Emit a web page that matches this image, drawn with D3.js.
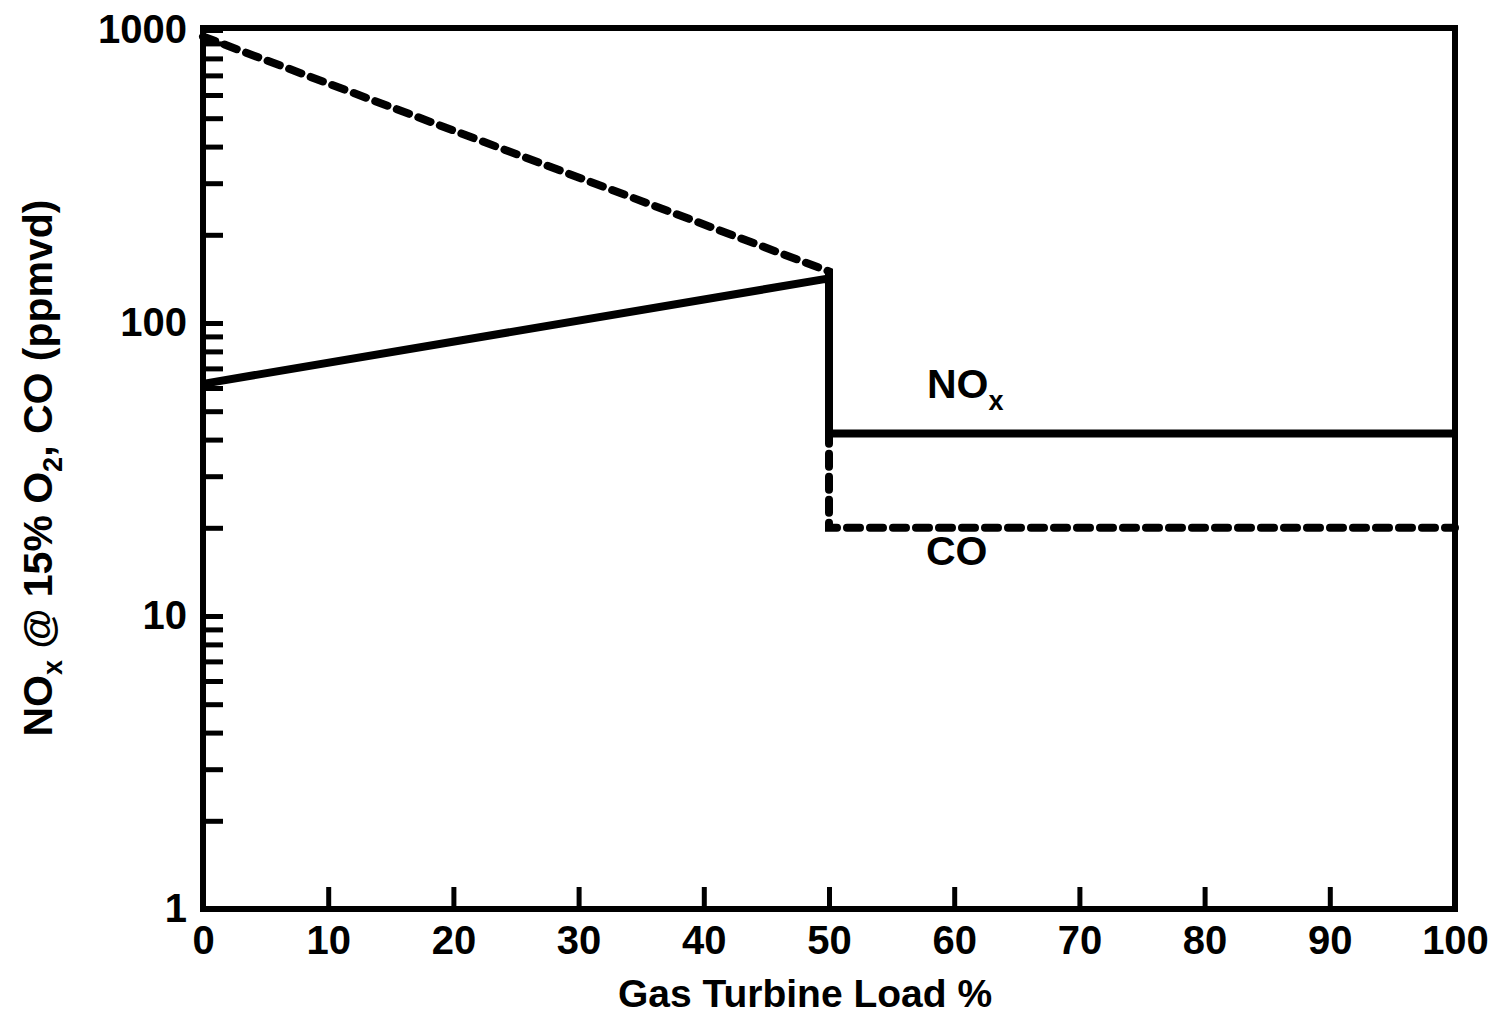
<!DOCTYPE html>
<html>
<head>
<meta charset="utf-8">
<script src="https://cdn.jsdelivr.net/npm/d3@7"></script>
<style>
    body { margin: 0; background: #fff; }
    svg text { font-family: "Liberation Sans", Arial, sans-serif; font-weight: bold; fill: #000; }
</style>
</head>
<body>
<svg id="chart" width="1502" height="1022"></svg>
<script>
// DATA
var loadPct = [0, 50, 50, 100];
var noxValues = [62, 142, 42, 42];
var coValues = [950, 150, 20, 20];
var xTickValues = [0, 10, 20, 30, 40, 50, 60, 70, 80, 90, 100];
var yLabelValues = [1, 10, 100, 1000];

// UI dimensions
var _left = 203, _right = 1455, _top = 30, _bottom = 909;

var svg = d3.select("#chart");

var x = d3.scaleLinear().domain([0, 100]).range([_left, _right]);
var y = d3.scaleLog().domain([1, 1000]).range([_bottom, _top]);

// minor log ticks 1..9 per decade
var yTickValues = [];
[1, 10, 100].forEach(function(p) {
    for (var k = 1; k < 10; k++) yTickValues.push(k * p);
});
yTickValues.push(1000);

// x axis, ticks pointing up into the plot
var gx = svg.append("g")
    .attr("transform", "translate(0," + _bottom + ")")
    .call(d3.axisBottom(x)
        .tickValues(xTickValues)
        .tickSizeInner(-22)
        .tickSizeOuter(0)
        .tickPadding(17)
        .tickFormat(d3.format("d")));
gx.select(".domain").remove();
gx.selectAll(".tick line").attr("stroke", "#000").attr("stroke-width", 5);
gx.selectAll(".tick text").style("font-size", "40px");

// y axis, ticks pointing right into the plot
var gy = svg.append("g")
    .attr("transform", "translate(" + _left + ",0)")
    .call(d3.axisLeft(y)
        .tickValues(yTickValues)
        .tickSizeInner(-20)
        .tickSizeOuter(0)
        .tickPadding(16)
        .tickFormat(function(d) {
            return yLabelValues.indexOf(d) >= 0 ? d : "";
        }));
gy.select(".domain").remove();
gy.selectAll(".tick line").attr("stroke", "#000").attr("stroke-width", 5);
gy.selectAll(".tick text").style("font-size", "40px");

// frame
svg.append("rect")
    .attr("x", _left)
    .attr("y", _top - 2)
    .attr("width", _right - _left)
    .attr("height", _bottom - _top + 2)
    .attr("fill", "none")
    .attr("stroke", "#000")
    .attr("stroke-width", 6);

// lines
var line = d3.line()
    .x(function(d) { return x(d[0]); })
    .y(function(d) { return y(d[1]); });

svg.append("path")
    .datum(d3.zip(loadPct, coValues))
    .attr("d", line)
    .attr("fill", "none")
    .attr("stroke", "#000")
    .attr("stroke-width", 8)
    .attr("stroke-dasharray", "13,10")
    .attr("stroke-linecap", "round");

svg.append("path")
    .datum(d3.zip(loadPct, noxValues))
    .attr("d", line)
    .attr("fill", "none")
    .attr("stroke", "#000")
    .attr("stroke-width", 8)
    .attr("stroke-linejoin", "round");

// series labels
var noxLabel = svg.append("text")
    .attr("x", 927)
    .attr("y", 398)
    .style("font-size", "41px");
noxLabel.append("tspan").text("NO");
noxLabel.append("tspan").attr("dy", 12).style("font-size", "27px").text("x");

svg.append("text")
    .attr("x", 926)
    .attr("y", 565)
    .style("font-size", "41px")
    .text("CO");

// axis titles
svg.append("text")
    .attr("x", 805)
    .attr("y", 1007)
    .attr("text-anchor", "middle")
    .style("font-size", "39px")
    .text("Gas Turbine Load %");

var yTitle = svg.append("text")
    .attr("transform", "translate(52,468) rotate(-90)")
    .attr("text-anchor", "middle")
    .style("font-size", "41px");
yTitle.append("tspan").text("NO");
yTitle.append("tspan").attr("dy", 10).style("font-size", "27px").text("x");
yTitle.append("tspan").attr("dy", -10).text(" @ 15% O");
yTitle.append("tspan").attr("dy", 10).style("font-size", "27px").text("2");
yTitle.append("tspan").attr("dy", -10).text(", CO (ppmvd)");
</script>
</body>
</html>
